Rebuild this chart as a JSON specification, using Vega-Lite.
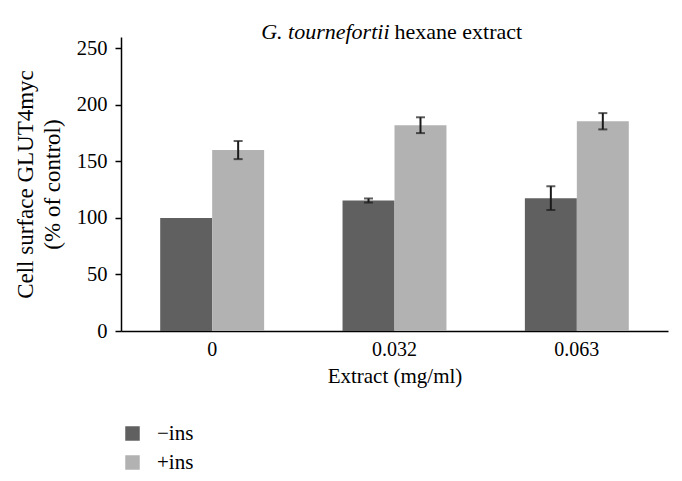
{
  "$schema": "https://vega.github.io/schema/vega-lite/v6.json",
  "width": 547,
  "height": 294,
  "autosize": {"type": "none"},
  "padding": {"left": 121, "top": 37, "right": 14, "bottom": 150},
  "background": "white",
  "config": {"font": "Liberation Serif", "view": {"stroke": null}},
  "data": {
    "values": [
      {"dose": "0", "group": "−ins", "value": 100, "lo": 100, "hi": 100},
      {"dose": "0", "group": "+ins", "value": 160, "lo": 152, "hi": 168},
      {"dose": "0.032", "group": "−ins", "value": 115.4, "lo": 113.6, "hi": 117.2},
      {"dose": "0.032", "group": "+ins", "value": 182, "lo": 175, "hi": 189},
      {"dose": "0.063", "group": "−ins", "value": 117.5, "lo": 107, "hi": 128},
      {"dose": "0.063", "group": "+ins", "value": 185.5, "lo": 178.3, "hi": 192.7}
    ]
  },
  "layer": [
    {
      "mark": {"type": "bar"},
      "encoding": {
        "x": {
          "field": "dose", "type": "nominal", "sort": ["0", "0.032", "0.063"],
          "scale": {"paddingInner": 0.43, "paddingOuter": 0.215},
          "title": "Extract (mg/ml)",
          "axis": {"ticks": false, "labelAngle": 0, "labelFontSize": 20, "labelPadding": 8, "labelColor": "#000",
                   "titleFontSize": 21, "titleFontWeight": "normal", "titleColor": "#000", "titlePadding": 6,
                   "domainColor": "#000", "domainWidth": 1.5}
        },
        "xOffset": {"field": "group", "type": "nominal", "sort": ["−ins", "+ins"]},
        "y": {
          "field": "value", "type": "quantitative",
          "scale": {"domain": [0, 250]},
          "title": ["Cell surface GLUT4myc", "(% of control)"],
          "axis": {"values": [0, 50, 100, 150, 200, 250], "grid": false, "tickSize": 6, "tickColor": "#000", "tickWidth": 1.5,
                   "domainColor": "#000", "domainWidth": 1.5, "labelFontSize": 20.5, "labelPadding": 8, "labelColor": "#000",
                   "titleFontSize": 23, "titleLineHeight": 27, "titlePadding": 12, "titleFontWeight": "normal", "titleColor": "#000"}
        },
        "color": {
          "field": "group", "type": "nominal",
          "scale": {"domain": ["−ins", "+ins"], "range": ["#606060", "#b2b2b2"]},
          "legend": {"orient": "none", "legendX": 1, "legendY": 386, "title": null, "symbolType": "square", "symbolSize": 210,
                     "labelFontSize": 21, "labelColor": "#000", "rowPadding": 7, "labelOffset": 14, "padding": 0, "symbolStrokeWidth": 0}
        }
      }
    },
    {
      "transform": [{"filter": "datum.hi > datum.lo"}],
      "mark": {"type": "rule", "color": "#1a1a1a", "strokeWidth": 2},
      "encoding": {
        "x": {"field": "dose", "type": "nominal", "sort": ["0", "0.032", "0.063"]},
        "xOffset": {"field": "group", "type": "nominal", "sort": ["−ins", "+ins"]},
        "y": {"field": "lo", "type": "quantitative"},
        "y2": {"field": "hi"}
      }
    },
    {
      "transform": [{"filter": "datum.hi > datum.lo"}],
      "mark": {"type": "tick", "color": "#1a1a1a", "size": 9, "thickness": 2},
      "encoding": {
        "x": {"field": "dose", "type": "nominal", "sort": ["0", "0.032", "0.063"]},
        "xOffset": {"field": "group", "type": "nominal", "sort": ["−ins", "+ins"]},
        "y": {"field": "lo", "type": "quantitative"}
      }
    },
    {
      "transform": [{"filter": "datum.hi > datum.lo"}],
      "mark": {"type": "tick", "color": "#1a1a1a", "size": 9, "thickness": 2},
      "encoding": {
        "x": {"field": "dose", "type": "nominal", "sort": ["0", "0.032", "0.063"]},
        "xOffset": {"field": "group", "type": "nominal", "sort": ["−ins", "+ins"]},
        "y": {"field": "hi", "type": "quantitative"}
      }
    },
    {
      "data": {"values": [{"t": "G. tournefortii"}]},
      "mark": {"type": "text", "align": "right", "baseline": "alphabetic", "fontStyle": "italic", "fontSize": 22, "color": "#000", "dx": -5},
      "encoding": {
        "x": {"datum": "0.032", "type": "nominal"},
        "y": {"datum": 258, "type": "quantitative"},
        "text": {"field": "t"}
      }
    },
    {
      "data": {"values": [{"t": "hexane extract"}]},
      "mark": {"type": "text", "align": "left", "baseline": "alphabetic", "fontSize": 22, "color": "#000", "dx": 0},
      "encoding": {
        "x": {"datum": "0.032", "type": "nominal"},
        "y": {"datum": 258, "type": "quantitative"},
        "text": {"field": "t"}
      }
    }
  ]
}
